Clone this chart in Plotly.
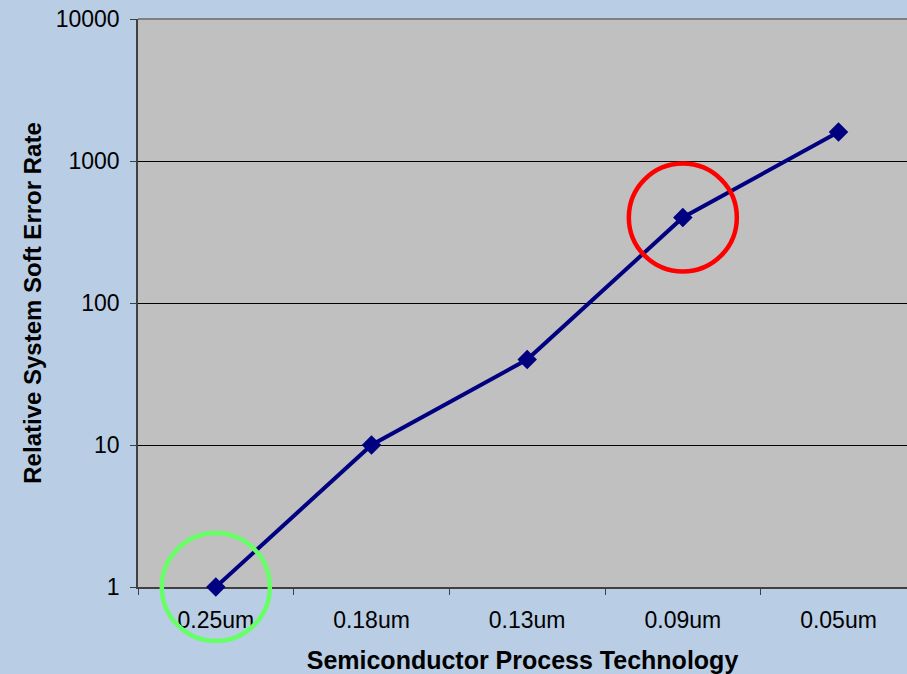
import plotly.graph_objects as go

categories = ["0.25um", "0.18um", "0.13um", "0.09um", "0.05um"]
ser_values = [1, 10, 40, 400, 1600]
y_ticks = [1, 10, 100, 1000, 10000]
y_tick_labels = ["1", "10", "100", "1000", "10000"]
highlight_idx = [0, 3]
highlight_colors = ["#66FF66", "#FF0000"]

fig = go.Figure()
fig.add_trace(go.Scatter(
    x=categories, y=ser_values, mode="lines+markers",
    line=dict(color="#000080", width=4),
    marker=dict(symbol="diamond", size=15, color="#000080"),
    cliponaxis=False, showlegend=False, hoverinfo="x+y",
))
fig.add_trace(go.Scatter(
    x=[categories[i] for i in highlight_idx],
    y=[ser_values[i] for i in highlight_idx],
    mode="markers",
    marker=dict(symbol="circle-open", size=108,
                line=dict(color=highlight_colors, width=4.5),
                color=highlight_colors),
    cliponaxis=False, showlegend=False, hoverinfo="skip",
))

font_family = "Liberation Sans, Arial, sans-serif"
fig.update_layout(
    width=907, height=674,
    margin=dict(l=138, r=0, t=19, b=87),
    paper_bgcolor="#B9CDE4",
    plot_bgcolor="#C0C0C0",
    font=dict(family=font_family, color="#000000", size=23),
    xaxis=dict(
        type="category", range=[-0.5, 4.44],
        tickson="boundaries", ticks="outside", ticklen=6, tickcolor="#404040",
        showline=True, linecolor="#404040", linewidth=1.5,
        showgrid=False, layer="below traces",
        tickfont=dict(size=23), ticklabelstandoff=12,
        title=dict(text="<b>Semiconductor Process Technology</b>",
                   font=dict(size=25), standoff=19),
    ),
    yaxis=dict(
        type="log", range=[0, 4],
        tickvals=y_ticks, ticktext=y_tick_labels,
        ticks="outside", ticklen=6, tickcolor="#404040",
        showline=True, linecolor="#404040", linewidth=1.5,
        showgrid=True, gridcolor="#000000", gridwidth=1,
        zeroline=False,
        tickfont=dict(size=23), ticklabelstandoff=6,
        title=dict(text="<b>Relative System Soft Error Rate</b>",
                   font=dict(size=24), standoff=7),
    ),
    shapes=[dict(type="line", xref="paper", yref="paper", x0=0, x1=1, y0=1, y1=1,
                 line=dict(color="#808080", width=2))],
)

fig.write_html("out.html", config={"displayModeBar": False},
               post_script="document.body.style.margin='0';document.body.style.padding='0';")
